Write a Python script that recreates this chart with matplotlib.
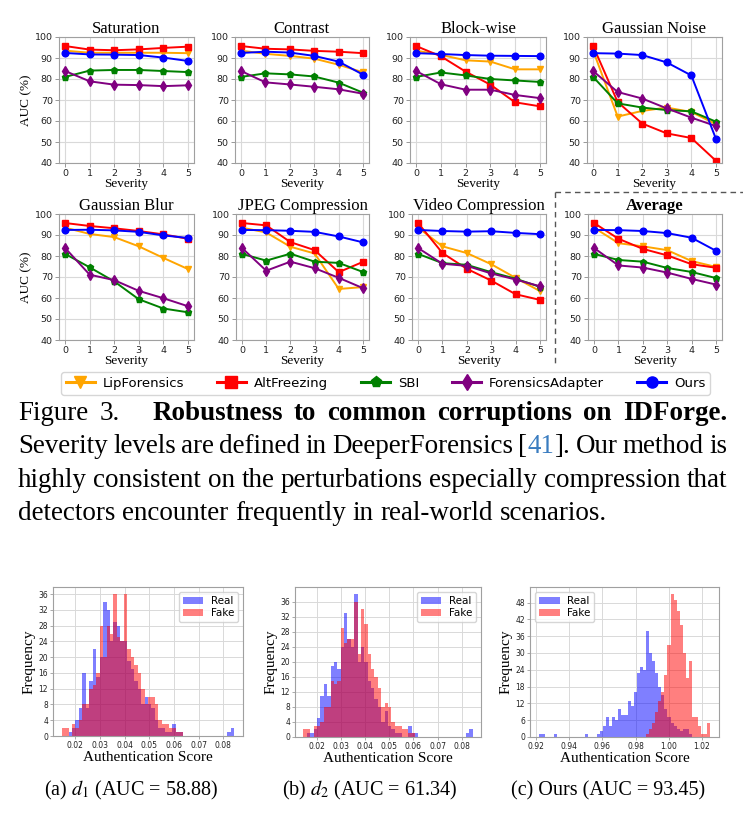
import matplotlib
matplotlib.use('Agg')
import matplotlib.pyplot as plt
from matplotlib.lines import Line2D
from matplotlib.ticker import MultipleLocator
import numpy as np

plt.rcParams['mathtext.fontset'] = 'stix'
SERIF = 'Liberation Serif'

W, H = 743, 815
fig = plt.figure(figsize=(W / 100, H / 100), dpi=100)


def add_ax(l, t, r, b):
    return fig.add_axes([l / W, 1 - b / H, (r - l) / W, (b - t) / H])


# ---------------- data: robustness curves ----------------
severity = [0, 1, 2, 3, 4, 5]
methods = ["LipForensics", "AltFreezing", "SBI", "ForensicsAdapter", "Ours"]

# each panel: [LipForensics, AltFreezing, SBI, ForensicsAdapter, Ours]
saturation = [
    [93.5, 92.5, 92.5, 92.5, 92.5, 92.3],
    [95.7, 94.0, 93.7, 94.1, 94.8, 95.4],
    [81.0, 84.0, 84.3, 84.3, 83.8, 83.3],
    [83.8, 78.9, 77.3, 77.1, 76.6, 77.0],
    [92.4, 91.7, 91.6, 91.4, 90.2, 88.6],
]
contrast = [
    [93.5, 92.0, 91.0, 89.7, 86.8, 83.2],
    [95.7, 94.4, 94.1, 93.4, 93.0, 92.3],
    [81.0, 82.7, 82.2, 81.2, 78.3, 73.5],
    [83.8, 78.4, 77.4, 76.3, 75.1, 73.0],
    [92.4, 93.0, 92.6, 91.0, 88.3, 82.1],
]
blockwise = [
    [93.5, 91.5, 88.9, 88.3, 84.6, 84.6],
    [95.7, 90.8, 83.5, 77.3, 68.9, 67.0],
    [81.0, 83.1, 81.7, 80.0, 79.3, 78.6],
    [83.8, 77.5, 74.9, 74.9, 72.4, 70.9],
    [92.3, 91.9, 91.4, 91.1, 91.0, 90.9],
]
gaussian_noise = [
    [93.5, 62.1, 64.8, 66.4, 64.3, 58.5],
    [95.7, 69.0, 58.8, 54.1, 51.9, 41.1],
    [81.0, 68.4, 66.4, 65.2, 64.6, 59.7],
    [83.8, 73.8, 70.7, 66.0, 61.6, 57.6],
    [92.3, 92.1, 91.4, 87.9, 81.7, 51.6],
]
gaussian_blur = [
    [93.5, 90.5, 89.0, 84.6, 79.1, 73.8],
    [95.7, 94.3, 93.2, 91.9, 90.3, 88.2],
    [81.0, 74.6, 67.9, 59.4, 55.0, 53.2],
    [83.8, 71.1, 68.5, 63.4, 59.9, 56.1],
    [92.4, 92.5, 92.2, 91.5, 89.8, 88.6],
]
jpeg = [
    [93.5, 91.2, 84.4, 81.2, 64.3, 65.2],
    [95.7, 94.6, 86.6, 82.8, 72.3, 77.2],
    [81.0, 77.8, 81.1, 77.3, 76.7, 72.4],
    [83.8, 73.0, 77.3, 74.2, 69.6, 64.7],
    [92.4, 92.3, 92.0, 91.5, 89.3, 86.5],
]
video = [
    [93.5, 84.6, 81.4, 76.1, 69.6, 63.3],
    [95.7, 81.4, 73.9, 68.3, 61.8, 59.1],
    [81.0, 76.6, 75.8, 72.3, 69.2, 65.3],
    [83.8, 76.3, 75.3, 71.7, 68.8, 65.6],
    [92.4, 91.9, 91.6, 91.8, 91.0, 90.4],
]
average = [
    [93.5, 86.1, 84.6, 82.8, 77.6, 74.8],
    [95.7, 88.2, 83.4, 80.3, 76.1, 74.4],
    [81.0, 78.1, 77.3, 74.3, 72.4, 69.5],
    [83.8, 75.5, 74.5, 72.1, 69.1, 66.4],
    [92.4, 92.3, 91.9, 90.9, 88.7, 82.5],
]
panel_titles = ["Saturation", "Contrast", "Block-wise", "Gaussian Noise",
                "Gaussian Blur", "JPEG Compression", "Video Compression", "Average"]
panel_data = [saturation, contrast, blockwise, gaussian_noise,
              gaussian_blur, jpeg, video, average]

# ---------------- data: histograms ----------------
hist_a_start, hist_a_width = 0.0145, 0.0014
hist_a_real = [0, 0, 1, 2, 4, 7, 16, 7, 14, 22, 15, 20, 34, 32, 24, 29, 28, 24, 24, 19,
               17, 14, 12, 8, 10, 8, 7, 4, 2, 2, 1, 1, 3, 1, 1, 0, 0, 0, 0, 0,
               0, 0, 0, 0, 0, 0, 0, 0, 1, 2]
hist_a_fake = [2, 2, 0, 3, 2, 4, 8, 8, 12, 13, 16, 28, 20, 28, 26, 36, 25, 24, 36, 22,
               20, 18, 16, 12, 8, 10, 10, 8, 4, 3, 3, 2, 2, 1, 1, 0, 0, 0, 0, 0,
               0, 0, 0, 0, 0, 0, 0, 0, 0, 0]
hist_b_start, hist_b_width = 0.0145, 0.0014
hist_b_real = [0, 1, 1, 2, 5, 11, 14, 11, 19, 20, 18, 24, 33, 26, 24, 38, 20, 24, 20, 15,
               13, 10, 8, 4, 7, 3, 2, 1, 1, 0, 0, 3, 1, 1, 0, 0, 0, 0, 0, 0,
               0, 0, 0, 0, 0, 0, 0, 0, 1, 2]
hist_b_fake = [2, 2, 0, 3, 3, 4, 8, 8, 15, 14, 15, 29, 25, 26, 26, 36, 22, 34, 30, 22,
               18, 16, 13, 8, 9, 8, 4, 3, 3, 2, 2, 1, 1, 0, 0, 0, 0, 0, 0, 0,
               0, 0, 0, 0, 0, 0, 0, 0, 0, 0]
hist_c_start, hist_c_width = 0.9215, 0.00185
hist_c_real = [1, 1, 0, 0, 0, 1, 0, 0, 0, 0, 0, 0, 0, 0, 0, 1, 0, 0, 0, 1,
               2, 4, 7, 4, 7, 6, 10, 8, 8, 13, 11, 16, 23, 25, 24, 38, 30, 27, 23, 18,
               15, 10, 7, 5, 4, 3, 2, 3, 3, 1, 0, 0, 0, 0, 0, 0]
hist_c_fake = [0, 0, 0, 0, 0, 0, 0, 0, 0, 0, 0, 0, 0, 0, 0, 0, 0, 0, 0, 0,
               0, 0, 0, 0, 0, 0, 0, 0, 0, 0, 0, 0, 0, 0, 0, 1, 3, 5, 9, 13,
               16, 22, 33, 51, 49, 45, 40, 30, 21, 27, 7, 7, 4, 1, 1, 5]
subcaptions = [r"(a) $d_1$ (AUC = 58.88)", r"(b) $d_2$ (AUC = 61.34)", r"(c) Ours (AUC = 93.45)"]

# ---------------- styles ----------------
colors = ["#FFA500", "#FF0000", "#008000", "#800080", "#0000FF"]
markers = ["v", "s", "p", "d", "o"]
msizes = [4.5, 4.5, 4.5, 5.5, 4.8]

row_tops = [(37, 163), (214, 340)]
col_lr = [[(59, 194), (235, 369), (410, 546), (587, 722)],
          [(59, 194), (236, 369), (412, 546), (588, 722)]]

GRID = "#d9d9d9"
SPINE = "#a0a0a0"

for k, (title, series) in enumerate(zip(panel_titles, panel_data)):
    r, c = divmod(k, 4)
    l, rr = col_lr[r][c]
    t, b = row_tops[r]
    ax = add_ax(l, t, rr, b)
    for vals, col, mk, ms in zip(series, colors, markers, msizes):
        ax.plot(severity, vals, color=col, marker=mk, ms=ms, lw=1.4)
    ax.set_ylim(40, 100)
    ax.set_xlim(-0.25, 5.25)
    ax.set_yticks(range(40, 101, 10))
    ax.set_xticks(severity)
    ax.grid(True, color=GRID, lw=0.8)
    ax.set_axisbelow(True)
    ax.tick_params(labelsize=6.8, length=3, width=0.6, color="#888888", pad=1.5,
                   labelcolor="#222222")
    for s in ax.spines.values():
        s.set_color(SPINE)
        s.set_linewidth(0.8)
    ax.set_title(title, fontfamily=SERIF, fontsize=12, pad=3,
                 fontweight="bold" if title == "Average" else "normal")
    ax.set_xlabel("Severity", fontfamily=SERIF, fontsize=9.5, labelpad=0)
    if c == 0:
        ax.set_ylabel("AUC (%)", fontfamily=SERIF, fontsize=9.5, labelpad=2)

# legend
handles = [Line2D([], [], color=col, marker=mk, lw=2.2, ms=8) for col, mk in zip(colors, markers)]
fig.legend(handles, methods, loc="center", bbox_to_anchor=(385.5 / W, 1 - 383.5 / H),
           ncol=5, fontsize=9.5, frameon=True, edgecolor="#cccccc", fancybox=True,
           handlelength=2.2, columnspacing=2.5, handletextpad=0.6, borderpad=0.35)

# dashed box around Average
dash_kw = dict(transform=fig.transFigure, color="#555555", lw=1.0, ls=(0, (4, 3)))
fig.add_artist(Line2D([555 / W, 743 / W], [1 - 192 / H, 1 - 192 / H], **dash_kw))
fig.add_artist(Line2D([555 / W, 555 / W], [1 - 192 / H, 1 - 363 / H], **dash_kw))

# ---------------- caption (justified) ----------------
BLUE_LINK = "#3a7cc0"
N, B = "normal", "bold"


def words(s, weight=N):
    return [[(w, weight, "black")] for w in s.split()]


cap_lines = [
    (words("Figure 3.") + words("Robustness to common corruptions on IDForge.", B), True, {1: 3.0}),
    (words("Severity levels are defined in DeeperForensics") +
     [[("[", N, "black"), ("41", N, BLUE_LINK), ("].", N, "black")]] +
     words("Our method is"), True, {}),
    (words("highly consistent on the perturbations especially compression that"), True, {}),
    (words("detectors encounter frequently in real-world scenarios."), False, {}),
]
cap_baselines = [420, 453, 487, 520]
X0, X1 = 18, 727

renderer = fig.canvas.get_renderer()
fs0 = 20.0
all_objs = []
for wl, just, gw in cap_lines:
    objs = []
    for w in wl:
        parts = []
        for txt, wt, col in w:
            tt = fig.text(0, 0, txt, fontfamily=SERIF, fontsize=fs0, fontweight=wt,
                          color=col, ha="left", va="baseline")
            parts.append(tt)
        objs.append(parts)
    all_objs.append(objs)

space_t = fig.text(0, 0, "a a", fontfamily=SERIF, fontsize=fs0)
aa_t = fig.text(0, 0, "aa", fontfamily=SERIF, fontsize=fs0)
space_w0 = space_t.get_window_extent(renderer).width - aa_t.get_window_extent(renderer).width
space_t.remove()
aa_t.remove()

# pick font size so that justified lines fit
scale = 1.0
for (wl, just, gw), objs in zip(cap_lines, all_objs):
    tot = sum(p.get_window_extent(renderer).width for w in objs for p in w)
    nat = tot + (len(objs) - 1) * space_w0 * 0.75
    scale = min(scale, (X1 - X0) / nat)
fs = fs0 * scale
for objs in all_objs:
    for w in objs:
        for p in w:
            p.set_fontsize(fs)
space_w = space_w0 * scale

for (wl, just, gw), objs, yb in zip(cap_lines, all_objs, cap_baselines):
    widths = [[p.get_window_extent(renderer).width for p in w] for w in objs]
    wsum = sum(sum(ws) for ws in widths)
    weights = [gw.get(i, 1.0) for i in range(len(objs) - 1)]
    if just:
        unit = (X1 - X0 - wsum) / sum(weights)
    else:
        unit = space_w
    x = X0
    for i, (w, ws) in enumerate(zip(objs, widths)):
        for p, pw in zip(w, ws):
            p.set_position((x / W, 1 - yb / H))
            x += pw
        if i < len(weights):
            x += unit * weights[i]

# ---------------- histograms ----------------
hist_specs = [
    (hist_a_start, hist_a_width, hist_a_real, hist_a_fake, (53, 587, 243, 736), 4, "upper right"),
    (hist_b_start, hist_b_width, hist_b_real, hist_b_fake, (295, 587, 481, 737), 4, "upper right"),
    (hist_c_start, hist_c_width, hist_c_real, hist_c_fake, (530, 587, 719, 737), 6, "upper left"),
]
for start, width, real, fake, box, ystep, loc in hist_specs:
    ax = add_ax(*box)
    edges = start + width * np.arange(len(real) + 1)
    centers = (edges[:-1] + edges[1:]) / 2
    ax.hist(centers, bins=edges, weights=real, color="blue", alpha=0.5, label="Real")
    ax.hist(centers, bins=edges, weights=fake, color="red", alpha=0.5, label="Fake")
    ax.yaxis.set_major_locator(MultipleLocator(ystep))
    ax.grid(True, color=GRID, lw=0.7)
    ax.set_axisbelow(True)
    ax.tick_params(labelsize=5.5, length=2, width=0.5, color="#888888", pad=1.5,
                   labelcolor="#222222")
    for s in ax.spines.values():
        s.set_color(SPINE)
        s.set_linewidth(0.8)
    ax.set_xlabel("Authentication Score", fontfamily=SERIF, fontsize=11, labelpad=1)
    ax.set_ylabel("Frequency", fontfamily=SERIF, fontsize=11, labelpad=2)
    ax.legend(loc=loc, fontsize=7.5, edgecolor="#cccccc", handlelength=2.0,
              borderpad=0.35, labelspacing=0.25, handletextpad=0.7)

for cx, sc in zip([131, 370, 608], subcaptions):
    fig.text(cx / W, 1 - 795 / H, sc, fontfamily=SERIF, fontsize=14.5, ha="center", va="baseline")

fig.savefig("out.png", dpi=100)
